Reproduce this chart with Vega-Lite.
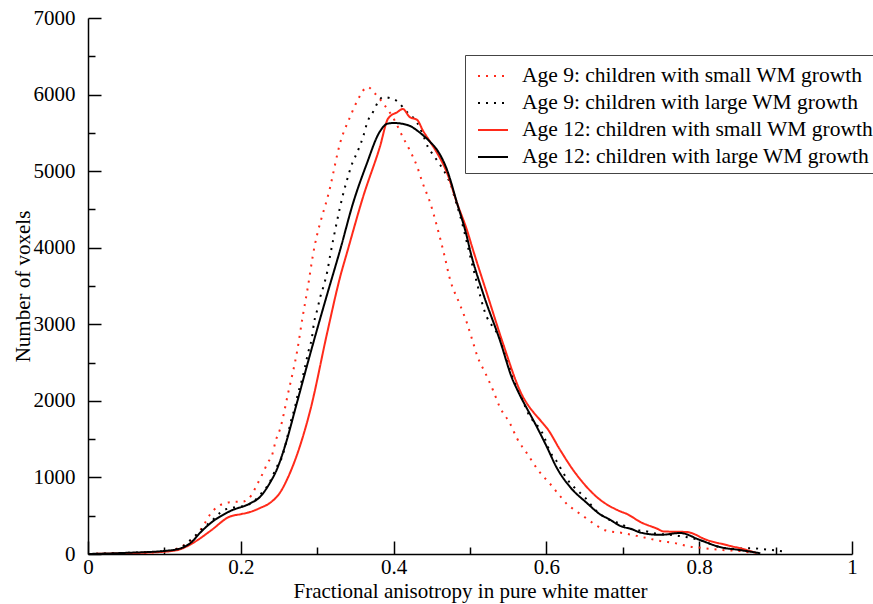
{
  "$schema": "https://vega.github.io/schema/vega-lite/v6.json",
  "width": 764,
  "height": 536,
  "autosize": {"type": "none"},
  "padding": {"left": 88, "top": 18, "right": 21, "bottom": 50},
  "background": "white",
  "config": {
    "view": {"stroke": null},
    "font": "Liberation Serif",
    "axis": {"labelFont": "Liberation Serif", "titleFont": "Liberation Serif", "labelColor": "black", "titleColor": "black", "titleFontWeight": "normal", "domainColor": "black", "tickColor": "black", "domainWidth": 1.5, "tickWidth": 1.5, "grid": false}
  },
  "datasets": {
    "curves": [
      {"series": "Age 9: children with small WM growth", "fa": 0.0, "count": 0},
      {"series": "Age 9: children with small WM growth", "fa": 0.05, "count": 10},
      {"series": "Age 9: children with small WM growth", "fa": 0.1, "count": 30},
      {"series": "Age 9: children with small WM growth", "fa": 0.13, "count": 143},
      {"series": "Age 9: children with small WM growth", "fa": 0.14, "count": 222},
      {"series": "Age 9: children with small WM growth", "fa": 0.147, "count": 313},
      {"series": "Age 9: children with small WM growth", "fa": 0.153, "count": 405},
      {"series": "Age 9: children with small WM growth", "fa": 0.16, "count": 520},
      {"series": "Age 9: children with small WM growth", "fa": 0.169, "count": 614},
      {"series": "Age 9: children with small WM growth", "fa": 0.178, "count": 660},
      {"series": "Age 9: children with small WM growth", "fa": 0.19, "count": 679},
      {"series": "Age 9: children with small WM growth", "fa": 0.203, "count": 685},
      {"series": "Age 9: children with small WM growth", "fa": 0.214, "count": 770},
      {"series": "Age 9: children with small WM growth", "fa": 0.221, "count": 901},
      {"series": "Age 9: children with small WM growth", "fa": 0.229, "count": 1058},
      {"series": "Age 9: children with small WM growth", "fa": 0.235, "count": 1188},
      {"series": "Age 9: children with small WM growth", "fa": 0.241, "count": 1293},
      {"series": "Age 9: children with small WM growth", "fa": 0.246, "count": 1489},
      {"series": "Age 9: children with small WM growth", "fa": 0.251, "count": 1619},
      {"series": "Age 9: children with small WM growth", "fa": 0.262, "count": 2103},
      {"series": "Age 9: children with small WM growth", "fa": 0.274, "count": 2664},
      {"series": "Age 9: children with small WM growth", "fa": 0.281, "count": 3100},
      {"series": "Age 9: children with small WM growth", "fa": 0.288, "count": 3500},
      {"series": "Age 9: children with small WM growth", "fa": 0.294, "count": 3879},
      {"series": "Age 9: children with small WM growth", "fa": 0.317, "count": 4793},
      {"series": "Age 9: children with small WM growth", "fa": 0.33, "count": 5368},
      {"series": "Age 9: children with small WM growth", "fa": 0.343, "count": 5707},
      {"series": "Age 9: children with small WM growth", "fa": 0.353, "count": 5929},
      {"series": "Age 9: children with small WM growth", "fa": 0.366, "count": 6099},
      {"series": "Age 9: children with small WM growth", "fa": 0.375, "count": 6021},
      {"series": "Age 9: children with small WM growth", "fa": 0.386, "count": 5890},
      {"series": "Age 9: children with small WM growth", "fa": 0.401, "count": 5668},
      {"series": "Age 9: children with small WM growth", "fa": 0.412, "count": 5446},
      {"series": "Age 9: children with small WM growth", "fa": 0.421, "count": 5276},
      {"series": "Age 9: children with small WM growth", "fa": 0.431, "count": 5054},
      {"series": "Age 9: children with small WM growth", "fa": 0.438, "count": 4845},
      {"series": "Age 9: children with small WM growth", "fa": 0.448, "count": 4584},
      {"series": "Age 9: children with small WM growth", "fa": 0.457, "count": 4271},
      {"series": "Age 9: children with small WM growth", "fa": 0.467, "count": 3879},
      {"series": "Age 9: children with small WM growth", "fa": 0.473, "count": 3618},
      {"series": "Age 9: children with small WM growth", "fa": 0.487, "count": 3252},
      {"series": "Age 9: children with small WM growth", "fa": 0.496, "count": 3017},
      {"series": "Age 9: children with small WM growth", "fa": 0.503, "count": 2795},
      {"series": "Age 9: children with small WM growth", "fa": 0.51, "count": 2573},
      {"series": "Age 9: children with small WM growth", "fa": 0.52, "count": 2364},
      {"series": "Age 9: children with small WM growth", "fa": 0.53, "count": 2142},
      {"series": "Age 9: children with small WM growth", "fa": 0.539, "count": 1920},
      {"series": "Age 9: children with small WM growth", "fa": 0.552, "count": 1711},
      {"series": "Age 9: children with small WM growth", "fa": 0.562, "count": 1502},
      {"series": "Age 9: children with small WM growth", "fa": 0.576, "count": 1293},
      {"series": "Age 9: children with small WM growth", "fa": 0.589, "count": 1097},
      {"series": "Age 9: children with small WM growth", "fa": 0.605, "count": 914},
      {"series": "Age 9: children with small WM growth", "fa": 0.62, "count": 731},
      {"series": "Age 9: children with small WM growth", "fa": 0.628, "count": 640},
      {"series": "Age 9: children with small WM growth", "fa": 0.637, "count": 575},
      {"series": "Age 9: children with small WM growth", "fa": 0.648, "count": 496},
      {"series": "Age 9: children with small WM growth", "fa": 0.666, "count": 370},
      {"series": "Age 9: children with small WM growth", "fa": 0.677, "count": 310},
      {"series": "Age 9: children with small WM growth", "fa": 0.7, "count": 274},
      {"series": "Age 9: children with small WM growth", "fa": 0.725, "count": 222},
      {"series": "Age 9: children with small WM growth", "fa": 0.749, "count": 170},
      {"series": "Age 9: children with small WM growth", "fa": 0.772, "count": 135},
      {"series": "Age 9: children with small WM growth", "fa": 0.784, "count": 104},
      {"series": "Age 9: children with small WM growth", "fa": 0.805, "count": 78},
      {"series": "Age 9: children with small WM growth", "fa": 0.831, "count": 52},
      {"series": "Age 9: children with small WM growth", "fa": 0.853, "count": 39},
      {"series": "Age 9: children with small WM growth", "fa": 0.87, "count": 13},

      {"series": "Age 9: children with large WM growth", "fa": 0.0, "count": 0},
      {"series": "Age 9: children with large WM growth", "fa": 0.05, "count": 15},
      {"series": "Age 9: children with large WM growth", "fa": 0.1, "count": 35},
      {"series": "Age 9: children with large WM growth", "fa": 0.12, "count": 78},
      {"series": "Age 9: children with large WM growth", "fa": 0.137, "count": 209},
      {"series": "Age 9: children with large WM growth", "fa": 0.151, "count": 340},
      {"series": "Age 9: children with large WM growth", "fa": 0.166, "count": 470},
      {"series": "Age 9: children with large WM growth", "fa": 0.173, "count": 540},
      {"series": "Age 9: children with large WM growth", "fa": 0.182, "count": 590},
      {"series": "Age 9: children with large WM growth", "fa": 0.196, "count": 614},
      {"series": "Age 9: children with large WM growth", "fa": 0.206, "count": 630},
      {"series": "Age 9: children with large WM growth", "fa": 0.216, "count": 679},
      {"series": "Age 9: children with large WM growth", "fa": 0.225, "count": 770},
      {"series": "Age 9: children with large WM growth", "fa": 0.238, "count": 940},
      {"series": "Age 9: children with large WM growth", "fa": 0.247, "count": 1136},
      {"series": "Age 9: children with large WM growth", "fa": 0.254, "count": 1267},
      {"series": "Age 9: children with large WM growth", "fa": 0.26, "count": 1489},
      {"series": "Age 9: children with large WM growth", "fa": 0.266, "count": 1750},
      {"series": "Age 9: children with large WM growth", "fa": 0.271, "count": 1920},
      {"series": "Age 9: children with large WM growth", "fa": 0.275, "count": 2103},
      {"series": "Age 9: children with large WM growth", "fa": 0.28, "count": 2272},
      {"series": "Age 9: children with large WM growth", "fa": 0.284, "count": 2442},
      {"series": "Age 9: children with large WM growth", "fa": 0.288, "count": 2625},
      {"series": "Age 9: children with large WM growth", "fa": 0.293, "count": 2820},
      {"series": "Age 9: children with large WM growth", "fa": 0.296, "count": 3030},
      {"series": "Age 9: children with large WM growth", "fa": 0.3, "count": 3187},
      {"series": "Age 9: children with large WM growth", "fa": 0.304, "count": 3356},
      {"series": "Age 9: children with large WM growth", "fa": 0.308, "count": 3487},
      {"series": "Age 9: children with large WM growth", "fa": 0.313, "count": 3680},
      {"series": "Age 9: children with large WM growth", "fa": 0.317, "count": 3900},
      {"series": "Age 9: children with large WM growth", "fa": 0.326, "count": 4350},
      {"series": "Age 9: children with large WM growth", "fa": 0.333, "count": 4662},
      {"series": "Age 9: children with large WM growth", "fa": 0.339, "count": 4884},
      {"series": "Age 9: children with large WM growth", "fa": 0.346, "count": 5106},
      {"series": "Age 9: children with large WM growth", "fa": 0.352, "count": 5237},
      {"series": "Age 9: children with large WM growth", "fa": 0.36, "count": 5446},
      {"series": "Age 9: children with large WM growth", "fa": 0.366, "count": 5650},
      {"series": "Age 9: children with large WM growth", "fa": 0.373, "count": 5772},
      {"series": "Age 9: children with large WM growth", "fa": 0.379, "count": 5890},
      {"series": "Age 9: children with large WM growth", "fa": 0.386, "count": 5968},
      {"series": "Age 9: children with large WM growth", "fa": 0.395, "count": 5955},
      {"series": "Age 9: children with large WM growth", "fa": 0.406, "count": 5903},
      {"series": "Age 9: children with large WM growth", "fa": 0.415, "count": 5798},
      {"series": "Age 9: children with large WM growth", "fa": 0.431, "count": 5629},
      {"series": "Age 9: children with large WM growth", "fa": 0.437, "count": 5511},
      {"series": "Age 9: children with large WM growth", "fa": 0.445, "count": 5315},
      {"series": "Age 9: children with large WM growth", "fa": 0.452, "count": 5211},
      {"series": "Age 9: children with large WM growth", "fa": 0.461, "count": 5080},
      {"series": "Age 9: children with large WM growth", "fa": 0.471, "count": 4910},
      {"series": "Age 9: children with large WM growth", "fa": 0.476, "count": 4793},
      {"series": "Age 9: children with large WM growth", "fa": 0.48, "count": 4650},
      {"series": "Age 9: children with large WM growth", "fa": 0.487, "count": 4420},
      {"series": "Age 9: children with large WM growth", "fa": 0.505, "count": 3700},
      {"series": "Age 9: children with large WM growth", "fa": 0.522, "count": 3095},
      {"series": "Age 9: children with large WM growth", "fa": 0.53, "count": 2965},
      {"series": "Age 9: children with large WM growth", "fa": 0.537, "count": 2860},
      {"series": "Age 9: children with large WM growth", "fa": 0.543, "count": 2730},
      {"series": "Age 9: children with large WM growth", "fa": 0.55, "count": 2520},
      {"series": "Age 9: children with large WM growth", "fa": 0.555, "count": 2330},
      {"series": "Age 9: children with large WM growth", "fa": 0.562, "count": 2160},
      {"series": "Age 9: children with large WM growth", "fa": 0.568, "count": 2030},
      {"series": "Age 9: children with large WM growth", "fa": 0.575, "count": 1860},
      {"series": "Age 9: children with large WM growth", "fa": 0.596, "count": 1554},
      {"series": "Age 9: children with large WM growth", "fa": 0.605, "count": 1332},
      {"series": "Age 9: children with large WM growth", "fa": 0.614, "count": 1202},
      {"series": "Age 9: children with large WM growth", "fa": 0.622, "count": 1058},
      {"series": "Age 9: children with large WM growth", "fa": 0.631, "count": 927},
      {"series": "Age 9: children with large WM growth", "fa": 0.64, "count": 836},
      {"series": "Age 9: children with large WM growth", "fa": 0.65, "count": 744},
      {"series": "Age 9: children with large WM growth", "fa": 0.664, "count": 575},
      {"series": "Age 9: children with large WM growth", "fa": 0.683, "count": 444},
      {"series": "Age 9: children with large WM growth", "fa": 0.694, "count": 405},
      {"series": "Age 9: children with large WM growth", "fa": 0.716, "count": 313},
      {"series": "Age 9: children with large WM growth", "fa": 0.729, "count": 300},
      {"series": "Age 9: children with large WM growth", "fa": 0.74, "count": 274},
      {"series": "Age 9: children with large WM growth", "fa": 0.764, "count": 248},
      {"series": "Age 9: children with large WM growth", "fa": 0.775, "count": 235},
      {"series": "Age 9: children with large WM growth", "fa": 0.801, "count": 180},
      {"series": "Age 9: children with large WM growth", "fa": 0.827, "count": 90},
      {"series": "Age 9: children with large WM growth", "fa": 0.844, "count": 70},
      {"series": "Age 9: children with large WM growth", "fa": 0.87, "count": 75},
      {"series": "Age 9: children with large WM growth", "fa": 0.882, "count": 65},
      {"series": "Age 9: children with large WM growth", "fa": 0.895, "count": 52},
      {"series": "Age 9: children with large WM growth", "fa": 0.905, "count": 39},
      {"series": "Age 9: children with large WM growth", "fa": 0.916, "count": 26},

      {"series": "Age 12: children with small WM growth", "fa": 0.0, "count": 0},
      {"series": "Age 12: children with small WM growth", "fa": 0.05, "count": 10},
      {"series": "Age 12: children with small WM growth", "fa": 0.1, "count": 30},
      {"series": "Age 12: children with small WM growth", "fa": 0.12, "count": 60},
      {"series": "Age 12: children with small WM growth", "fa": 0.14, "count": 160},
      {"series": "Age 12: children with small WM growth", "fa": 0.16, "count": 300},
      {"series": "Age 12: children with small WM growth", "fa": 0.186, "count": 490},
      {"series": "Age 12: children with small WM growth", "fa": 0.2, "count": 520},
      {"series": "Age 12: children with small WM growth", "fa": 0.212, "count": 548},
      {"series": "Age 12: children with small WM growth", "fa": 0.225, "count": 600},
      {"series": "Age 12: children with small WM growth", "fa": 0.238, "count": 666},
      {"series": "Age 12: children with small WM growth", "fa": 0.251, "count": 797},
      {"series": "Age 12: children with small WM growth", "fa": 0.264, "count": 1050},
      {"series": "Age 12: children with small WM growth", "fa": 0.277, "count": 1397},
      {"series": "Age 12: children with small WM growth", "fa": 0.291, "count": 1880},
      {"series": "Age 12: children with small WM growth", "fa": 0.313, "count": 2886},
      {"series": "Age 12: children with small WM growth", "fa": 0.33, "count": 3618},
      {"series": "Age 12: children with small WM growth", "fa": 0.34, "count": 3970},
      {"series": "Age 12: children with small WM growth", "fa": 0.36, "count": 4662},
      {"series": "Age 12: children with small WM growth", "fa": 0.382, "count": 5315},
      {"series": "Age 12: children with small WM growth", "fa": 0.393, "count": 5690},
      {"series": "Age 12: children with small WM growth", "fa": 0.405, "count": 5772},
      {"series": "Age 12: children with small WM growth", "fa": 0.412, "count": 5811},
      {"series": "Age 12: children with small WM growth", "fa": 0.421, "count": 5707},
      {"series": "Age 12: children with small WM growth", "fa": 0.431, "count": 5668},
      {"series": "Age 12: children with small WM growth", "fa": 0.438, "count": 5537},
      {"series": "Age 12: children with small WM growth", "fa": 0.448, "count": 5380},
      {"series": "Age 12: children with small WM growth", "fa": 0.457, "count": 5237},
      {"series": "Age 12: children with small WM growth", "fa": 0.47, "count": 4976},
      {"series": "Age 12: children with small WM growth", "fa": 0.483, "count": 4584},
      {"series": "Age 12: children with small WM growth", "fa": 0.496, "count": 4231},
      {"series": "Age 12: children with small WM growth", "fa": 0.504, "count": 3970},
      {"series": "Age 12: children with small WM growth", "fa": 0.522, "count": 3408},
      {"series": "Age 12: children with small WM growth", "fa": 0.543, "count": 2756},
      {"series": "Age 12: children with small WM growth", "fa": 0.565, "count": 2142},
      {"series": "Age 12: children with small WM growth", "fa": 0.595, "count": 1711},
      {"series": "Age 12: children with small WM growth", "fa": 0.601, "count": 1640},
      {"series": "Age 12: children with small WM growth", "fa": 0.618, "count": 1358},
      {"series": "Age 12: children with small WM growth", "fa": 0.635, "count": 1097},
      {"series": "Age 12: children with small WM growth", "fa": 0.648, "count": 930},
      {"series": "Age 12: children with small WM growth", "fa": 0.666, "count": 744},
      {"series": "Age 12: children with small WM growth", "fa": 0.696, "count": 560},
      {"series": "Age 12: children with small WM growth", "fa": 0.706, "count": 520},
      {"series": "Age 12: children with small WM growth", "fa": 0.723, "count": 418},
      {"series": "Age 12: children with small WM growth", "fa": 0.745, "count": 330},
      {"series": "Age 12: children with small WM growth", "fa": 0.753, "count": 295},
      {"series": "Age 12: children with small WM growth", "fa": 0.784, "count": 287},
      {"series": "Age 12: children with small WM growth", "fa": 0.81, "count": 183},
      {"series": "Age 12: children with small WM growth", "fa": 0.836, "count": 117},
      {"series": "Age 12: children with small WM growth", "fa": 0.862, "count": 52},
      {"series": "Age 12: children with small WM growth", "fa": 0.875, "count": 13},

      {"series": "Age 12: children with large WM growth", "fa": 0.0, "count": 0},
      {"series": "Age 12: children with large WM growth", "fa": 0.05, "count": 15},
      {"series": "Age 12: children with large WM growth", "fa": 0.1, "count": 40},
      {"series": "Age 12: children with large WM growth", "fa": 0.12, "count": 70},
      {"series": "Age 12: children with large WM growth", "fa": 0.135, "count": 150},
      {"series": "Age 12: children with large WM growth", "fa": 0.147, "count": 280},
      {"series": "Age 12: children with large WM growth", "fa": 0.16, "count": 400},
      {"series": "Age 12: children with large WM growth", "fa": 0.186, "count": 560},
      {"series": "Age 12: children with large WM growth", "fa": 0.212, "count": 660},
      {"series": "Age 12: children with large WM growth", "fa": 0.225, "count": 744},
      {"series": "Age 12: children with large WM growth", "fa": 0.238, "count": 927},
      {"series": "Age 12: children with large WM growth", "fa": 0.247, "count": 1100},
      {"series": "Age 12: children with large WM growth", "fa": 0.26, "count": 1480},
      {"series": "Age 12: children with large WM growth", "fa": 0.272, "count": 1920},
      {"series": "Age 12: children with large WM growth", "fa": 0.293, "count": 2690},
      {"series": "Age 12: children with large WM growth", "fa": 0.313, "count": 3390},
      {"series": "Age 12: children with large WM growth", "fa": 0.33, "count": 3970},
      {"series": "Age 12: children with large WM growth", "fa": 0.347, "count": 4584},
      {"series": "Age 12: children with large WM growth", "fa": 0.365, "count": 5100},
      {"series": "Age 12: children with large WM growth", "fa": 0.381, "count": 5500},
      {"series": "Age 12: children with large WM growth", "fa": 0.392, "count": 5620},
      {"series": "Age 12: children with large WM growth", "fa": 0.4, "count": 5629},
      {"series": "Age 12: children with large WM growth", "fa": 0.418, "count": 5603},
      {"series": "Age 12: children with large WM growth", "fa": 0.435, "count": 5498},
      {"series": "Age 12: children with large WM growth", "fa": 0.448, "count": 5380},
      {"series": "Age 12: children with large WM growth", "fa": 0.457, "count": 5276},
      {"series": "Age 12: children with large WM growth", "fa": 0.47, "count": 5015},
      {"series": "Age 12: children with large WM growth", "fa": 0.483, "count": 4584},
      {"series": "Age 12: children with large WM growth", "fa": 0.496, "count": 4140},
      {"series": "Age 12: children with large WM growth", "fa": 0.5, "count": 3970},
      {"series": "Age 12: children with large WM growth", "fa": 0.517, "count": 3408},
      {"series": "Age 12: children with large WM growth", "fa": 0.539, "count": 2795},
      {"series": "Age 12: children with large WM growth", "fa": 0.556, "count": 2272},
      {"series": "Age 12: children with large WM growth", "fa": 0.562, "count": 2142},
      {"series": "Age 12: children with large WM growth", "fa": 0.588, "count": 1650},
      {"series": "Age 12: children with large WM growth", "fa": 0.601, "count": 1390},
      {"series": "Age 12: children with large WM growth", "fa": 0.613, "count": 1136},
      {"series": "Age 12: children with large WM growth", "fa": 0.631, "count": 875},
      {"series": "Age 12: children with large WM growth", "fa": 0.653, "count": 666},
      {"series": "Age 12: children with large WM growth", "fa": 0.67, "count": 520},
      {"series": "Age 12: children with large WM growth", "fa": 0.683, "count": 450},
      {"series": "Age 12: children with large WM growth", "fa": 0.696, "count": 370},
      {"series": "Age 12: children with large WM growth", "fa": 0.713, "count": 320},
      {"series": "Age 12: children with large WM growth", "fa": 0.723, "count": 280},
      {"series": "Age 12: children with large WM growth", "fa": 0.749, "count": 250},
      {"series": "Age 12: children with large WM growth", "fa": 0.775, "count": 274},
      {"series": "Age 12: children with large WM growth", "fa": 0.801, "count": 183},
      {"series": "Age 12: children with large WM growth", "fa": 0.827, "count": 91},
      {"series": "Age 12: children with large WM growth", "fa": 0.853, "count": 52},
      {"series": "Age 12: children with large WM growth", "fa": 0.88, "count": 10}
    ]
  },
  "data": {"name": "curves"},
  "mark": {"type": "line", "interpolate": "monotone", "strokeWidth": 2, "clip": true},
  "encoding": {
    "x": {"field": "fa", "type": "quantitative", "scale": {"domain": [0, 1], "nice": false},
      "axis": {"orient": "bottom", "values": [0, 0.1, 0.2, 0.3, 0.4, 0.5, 0.6, 0.7, 0.8, 0.9, 1],
        "labelExpr": "round(datum.value * 10) % 2 === 0 ? format(datum.value, '.1~f') : ''",
        "tickSize": {"condition": {"test": "round(datum.value * 10) % 2 === 0", "value": -13}, "value": -7},
        "labelPadding": 15, "labelFontSize": 21, "labelFlush": false, "labelOverlap": false,
        "title": "Fractional anisotropy in pure white matter", "titleFontSize": 21, "titlePadding": -3}},
    "y": {"field": "count", "type": "quantitative", "scale": {"domain": [0, 7000], "nice": false},
      "axis": {"orient": "left", "values": [0, 500, 1000, 1500, 2000, 2500, 3000, 3500, 4000, 4500, 5000, 5500, 6000, 6500, 7000],
        "labelExpr": "datum.value % 1000 === 0 ? format(datum.value, 'd') : ''",
        "tickSize": {"condition": {"test": "datum.value % 1000 === 0", "value": -13}, "value": -7},
        "labelPadding": 26, "labelFontSize": 21, "labelFlush": false, "labelOverlap": false,
        "title": "Number of voxels", "titleFontSize": 21, "titlePadding": 0}},
    "color": {"field": "series", "type": "nominal", "title": null,
      "scale": {"domain": ["Age 9: children with small WM growth", "Age 9: children with large WM growth", "Age 12: children with small WM growth", "Age 12: children with large WM growth"], "range": ["#ff2a1a", "#000000", "#ff2a1a", "#000000"]},
      "legend": {"orient": "none", "legendX": 377, "legendY": 37, "symbolType": "stroke", "symbolSize": 900, "symbolStrokeWidth": 2, "symbolOffset": 7, "labelFont": "Liberation Serif", "labelFontSize": 21.5, "labelLimit": 600, "labelColor": "black", "strokeColor": "#444444", "fillColor": "white", "padding": 5, "rowPadding": 0, "labelOffset": 13}},
    "strokeDash": {"field": "series", "type": "nominal", "title": null,
      "scale": {"domain": ["Age 9: children with small WM growth", "Age 9: children with large WM growth", "Age 12: children with small WM growth", "Age 12: children with large WM growth"], "range": [[2, 6], [2, 6], [1, 0], [1, 0]]}},
    "order": {"field": "fa", "type": "quantitative"}
  }
}
